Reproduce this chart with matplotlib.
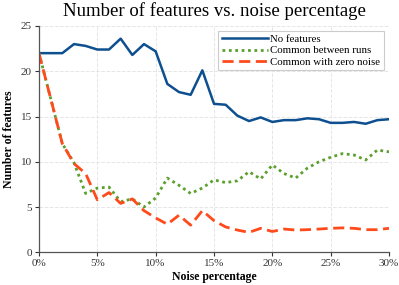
import matplotlib
matplotlib.use("Agg")
import matplotlib.pyplot as plt
from matplotlib.ticker import FuncFormatter

# noise percentage 0..30
noise = list(range(31))

no_features = [22.0, 22.0, 22.0, 23.0, 22.8, 22.4, 22.4, 23.6, 21.8, 23.0,
               22.2, 18.6, 17.7, 17.4, 20.1, 16.4, 16.3, 15.1, 14.5, 14.9,
               14.4, 14.6, 14.6, 14.8, 14.7, 14.3, 14.3, 14.4, 14.2, 14.6,
               14.7]
common_runs = [22.0, 17.0, 12.0, 9.9, 6.5, 7.1, 7.2, 5.6, 5.9, 5.0,
               6.0, 8.2, 7.4, 6.5, 7.1, 8.0, 7.7, 7.9, 8.9, 8.1,
               9.65, 8.7, 8.2, 9.3, 10.0, 10.5, 10.9, 10.75, 10.2, 11.3,
               11.1]
common_zero = [22.0, 17.0, 12.0, 9.8, 8.7, 5.8, 6.6, 5.4, 5.9, 4.6,
               3.8, 3.1, 4.1, 3.0, 4.6, 3.5, 2.8, 2.46, 2.2, 2.65,
               2.3, 2.57, 2.46, 2.5, 2.57, 2.65, 2.7, 2.65, 2.5, 2.5,
               2.65]

plt.rcParams['font.family'] = ['Liberation Serif', 'DejaVu Serif']

fig = plt.figure(figsize=(3.99, 2.85), dpi=100)
ax = fig.add_axes([0.0977, 0.1147, 0.8773, 0.7941])

ax.plot(noise, no_features, color='#0d4f8f', lw=1.8, label='No features')
ax.plot(noise, common_runs, color='#5aa02c', lw=2.0, ls=(0, (1, 1.3)),
        label='Common between runs')
ax.plot(noise, common_zero, color='#ff4a1c', lw=2.0, ls=(0, (4, 2)),
        label='Common with zero noise')

ax.set_xlim(0, 30)
ax.set_ylim(0, 25)
ax.set_xticks(range(0, 31, 5))
ax.set_yticks(range(0, 26, 5))
ax.xaxis.set_major_formatter(FuncFormatter(lambda v, p: f"{int(v)}%"))
ax.tick_params(labelsize=8, length=3, width=0.8, colors='#333333', pad=2)

ax.grid(True, color='#e6e6e6', ls='--', lw=0.7)
ax.set_axisbelow(True)
for s in ['top', 'right']:
    ax.spines[s].set_visible(False)
for s in ['left', 'bottom']:
    ax.spines[s].set_color('#555555')
    ax.spines[s].set_linewidth(0.9)

ax.set_title('Number of features vs. noise percentage', fontsize=13.5, pad=7)
ax.set_xlabel('Noise percentage', fontsize=8.5, fontweight='bold', labelpad=2)
ax.set_ylabel('Number of features', fontsize=8.5, fontweight='bold', labelpad=4)

leg = ax.legend(loc='upper right', fontsize=7.8, fancybox=False, framealpha=1,
                edgecolor='#cccccc', handlelength=4.3, handletextpad=0.2,
                borderpad=0.3, labelspacing=0.15, borderaxespad=0.5)
leg.get_frame().set_linewidth(0.8)

fig.savefig('out.png', dpi=100)
